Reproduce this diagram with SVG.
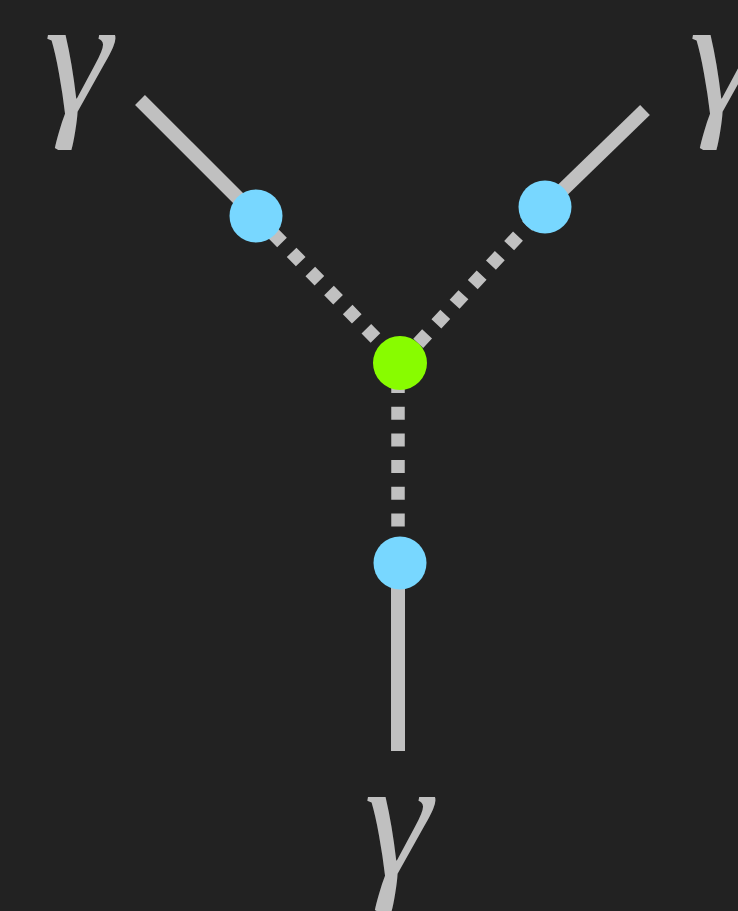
<svg xmlns="http://www.w3.org/2000/svg" width="738" height="911" viewBox="0 0 738 911">
  <style>
    .solid { stroke: #c0c0c0; stroke-width: 14; fill: none; stroke-linecap: butt; }
    .dot { stroke: #c0c0c0; stroke-width: 13.5; fill: none; stroke-linecap: butt; stroke-dasharray: 13 13.7; }
    .ext { fill: #78d7ff; }
    .vtx { fill: #88fc00; }
    .lbl { font-family: "Liberation Serif", "Times New Roman", serif; font-style: italic; font-size: 171px; fill: #c0c0c0; text-anchor: middle; }
  </style>
  <rect x="0" y="0" width="738" height="911" fill="#222222"/>
  <g id="connectors">
    <line class="solid" x1="140" y1="100" x2="256" y2="216"/>
    <line class="solid" x1="645" y1="110" x2="545" y2="207"/>
    <line class="solid" x1="398" y1="563" x2="398" y2="751"/>
    <line class="dot" x1="256" y1="216" x2="400" y2="363" style="stroke-dashoffset:2.5"/>
    <line class="dot" x1="545" y1="207" x2="400" y2="363" style="stroke-dashoffset:13.7"/>
    <line class="dot" x1="398" y1="363" x2="398" y2="563" style="stroke-dashoffset:9.7"/>
  </g>
  <g id="vertex"><circle class="vtx" cx="400" cy="363" r="27"/></g>
  <g id="ext-left"><circle class="ext" cx="256" cy="216" r="26.5"/></g>
  <g id="ext-right"><circle class="ext" cx="545" cy="207" r="26.5"/></g>
  <g id="ext-bottom"><circle class="ext" cx="400" cy="563" r="26.5"/></g>
  <g id="label-left"><text class="lbl" x="78" y="113">γ</text></g>
  <g id="label-right"><text class="lbl" x="723" y="113">γ</text></g>
  <g id="label-bottom"><text class="lbl" x="398" y="875">γ</text></g>
</svg>
